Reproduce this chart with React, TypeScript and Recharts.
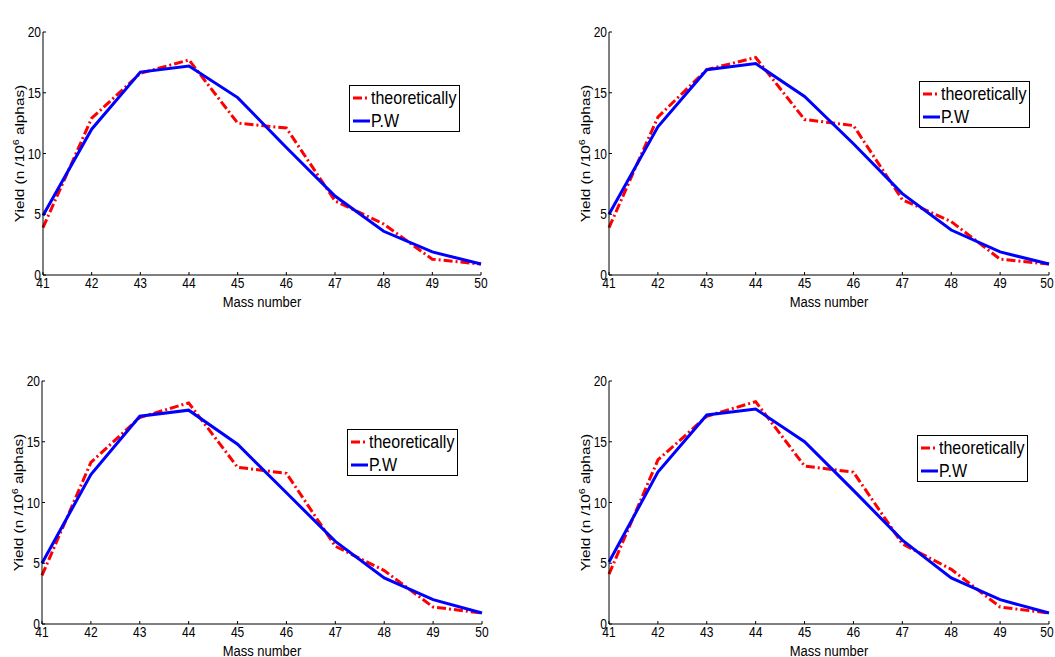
import React from "react";
import { LineChart, Line, XAxis, YAxis, Legend } from "recharts";

const massNumbers = [41, 42, 43, 44, 45, 46, 47, 48, 49, 50];
const yTicks = [0, 5, 10, 15, 20];

const theory35 = [3.9, 12.9, 16.6, 17.7, 12.5, 12.1, 6.1, 4.2, 1.3, 0.9];
const pw35 = [4.9, 12.0, 16.7, 17.2, 14.6, 10.5, 6.5, 3.6, 1.9, 0.9];
const theory40 = [3.9, 13.0, 16.9, 17.9, 12.8, 12.3, 6.2, 4.4, 1.3, 0.9];
const pw40 = [5.0, 12.2, 16.9, 17.4, 14.7, 10.8, 6.7, 3.7, 1.9, 0.9];
const theory45 = [4.0, 13.3, 17.0, 18.2, 12.9, 12.4, 6.4, 4.4, 1.4, 0.9];
const pw45 = [5.0, 12.3, 17.1, 17.6, 14.8, 10.8, 6.8, 3.8, 2.0, 0.9];
const theory50 = [4.1, 13.5, 17.1, 18.3, 13.0, 12.5, 6.6, 4.5, 1.4, 0.9];
const pw50 = [5.1, 12.5, 17.2, 17.7, 15.0, 11.0, 6.9, 3.8, 2.0, 0.9];

const FONT = '"Liberation Sans", Arial, sans-serif';
const STRETCH = 1.18; // the source figure is a bit taller than wide
const RED_DASH = "9 3 2 3";
const legendOrder = ["theory", "pw"];

const BottomTick = ({ x, y, payload }: any) => (
  <g transform={`translate(${x},${y}) scale(1,${STRETCH})`}>
    <text x={0} y={8.6} textAnchor="middle" fontSize={12} fill="#000" fontFamily={FONT}>
      {payload.value}
    </text>
  </g>
);

const LeftTick = ({ x, y, payload }: any) => (
  <g transform={`translate(${x},${y}) scale(1,${STRETCH})`}>
    <text x={0} y={4.3} textAnchor="end" fontSize={12} fill="#000" fontFamily={FONT}>
      {payload.value}
    </text>
  </g>
);

const YTitle = ({ viewBox }: any) => {
  const cx = viewBox.x + 11;
  const cy = viewBox.y + viewBox.height / 2;
  return (
    <text
      transform={`translate(${cx},${cy}) rotate(-90) scale(${STRETCH},1)`}
      textAnchor="middle"
      fontSize={13}
      fill="#000"
      fontFamily={FONT}
    >
      Yield (n /10
      <tspan dy={-5} fontSize={9}>6</tspan>
      <tspan dy={5}> alphas)</tspan>
    </text>
  );
};

const XTitle = ({ viewBox }: any) => (
  <g transform={`translate(${viewBox.x + viewBox.width / 2},${viewBox.y + 32}) scale(1,${STRETCH})`}>
    <text textAnchor="middle" fontSize={13} fill="#000" fontFamily={FONT}>
      Mass number
    </text>
  </g>
);

const makeTitle = (title: string) => ({ viewBox }: any) => (
  <g transform={`translate(${viewBox.x + viewBox.width / 2},${viewBox.y - 9}) scale(1,${STRETCH})`}>
    <text textAnchor="middle" fontSize={13} fill="#000" fontFamily={FONT}>
      {title}
    </text>
  </g>
);

const renderLegend = ({ payload }: any) => {
  const items = [...(payload || [])].sort(
    (a: any, b: any) => legendOrder.indexOf(a.dataKey) - legendOrder.indexOf(b.dataKey)
  );
  return (
    <div
      style={{
        border: "1px solid #000",
        background: "#fff",
        boxSizing: "border-box",
        width: "100%",
        height: "100%",
      }}
    >
      {items.map((entry: any) => (
        <div key={entry.value} style={{ display: "flex", alignItems: "center", height: 23 }}>
          <svg width={21} height={6} style={{ flex: "none" }}>
            <line
              x1={3}
              y1={3}
              x2={20}
              y2={3}
              stroke={entry.color}
              strokeWidth={3}
              strokeDasharray={entry.payload?.strokeDasharray}
            />
          </svg>
          <span
            style={{
              fontSize: 16,
              fontFamily: FONT,
              color: "#000",
              display: "inline-block",
              transform: `scaleY(${STRETCH})`,
              lineHeight: "16px",
            }}
          >
            {entry.value}
          </span>
        </div>
      ))}
    </div>
  );
};

interface PanelProps {
  title: string;
  theory: number[];
  pw: number[];
  left: number;
  top: number;
  width: number;
  marginLeft: number;
  marginRight: number;
  legendLeft: number;
  legendTop: number;
}

function Panel({ title, theory, pw, left, top, width, marginLeft, marginRight, legendLeft, legendTop }: PanelProps) {
  const data = massNumbers.map((m, i) => ({ mass: m, theory: theory[i], pw: pw[i] }));
  return (
    <div style={{ position: "absolute", left, top }}>
      <LineChart
        width={width}
        height={320}
        data={data}
        margin={{ top: 32, left: marginLeft, right: marginRight, bottom: 5 }}
      >
        <XAxis
          dataKey="mass"
          type="number"
          domain={[41, 50]}
          ticks={massNumbers}
          height={40}
          stroke="#000"
          tickSize={-3}
          tickMargin={6}
          tick={<BottomTick />}
          label={XTitle}
        />
        <XAxis
          xAxisId="top"
          orientation="top"
          type="number"
          domain={[41, 50]}
          ticks={massNumbers}
          height={0}
          stroke="#000"
          tickSize={-3}
          tick={false}
          label={makeTitle(title)}
        />
        <YAxis
          type="number"
          domain={[0, 20]}
          ticks={yTicks}
          width={30}
          stroke="#000"
          tickSize={-3}
          tickMargin={5}
          tick={<LeftTick />}
          label={YTitle}
        />
        <YAxis
          yAxisId="right"
          orientation="right"
          type="number"
          domain={[0, 20]}
          ticks={yTicks}
          width={0}
          stroke="#000"
          tickSize={-3}
          tick={false}
        />
        <Legend
          layout="vertical"
          align="center"
          verticalAlign="middle"
          content={renderLegend}
          wrapperStyle={{ left: legendLeft, top: legendTop, width: 111, height: 47 }}
        />
        <Line
          dataKey="theory"
          name="theoretically"
          stroke="#ff0000"
          strokeWidth={3}
          strokeDasharray={RED_DASH}
          dot={false}
          isAnimationActive={false}
        />
        <Line
          dataKey="pw"
          name="P.W"
          stroke="#0000ff"
          strokeWidth={3}
          dot={false}
          isAnimationActive={false}
        />
      </LineChart>
    </div>
  );
}

export default function App() {
  return (
    <div
      style={{
        position: "absolute",
        left: 0,
        top: 0,
        width: 1055,
        height: 657,
        overflow: "hidden",
        background: "#fff",
        fontFamily: FONT,
      }}
    >
      <Panel title="Alpha Energy 35 MeV" theory={theory35} pw={pw35}
        left={0} top={0} width={500} marginLeft={13} marginRight={19} legendLeft={349} legendTop={85} />
      <Panel title="Alpha Energy 40 MeV" theory={theory40} pw={pw40}
        left={566} top={0} width={489} marginLeft={13} marginRight={6} legendLeft={353} legendTop={81} />
      <Panel title="Alpha Energy 45 MeV" theory={theory45} pw={pw45}
        left={0} top={349} width={500} marginLeft={12} marginRight={18} legendLeft={347} legendTop={80} />
      <Panel title="Alpha Energy 50 MeV" theory={theory50} pw={pw50}
        left={566} top={349} width={489} marginLeft={13} marginRight={6} legendLeft={351} legendTop={86} />
    </div>
  );
}
